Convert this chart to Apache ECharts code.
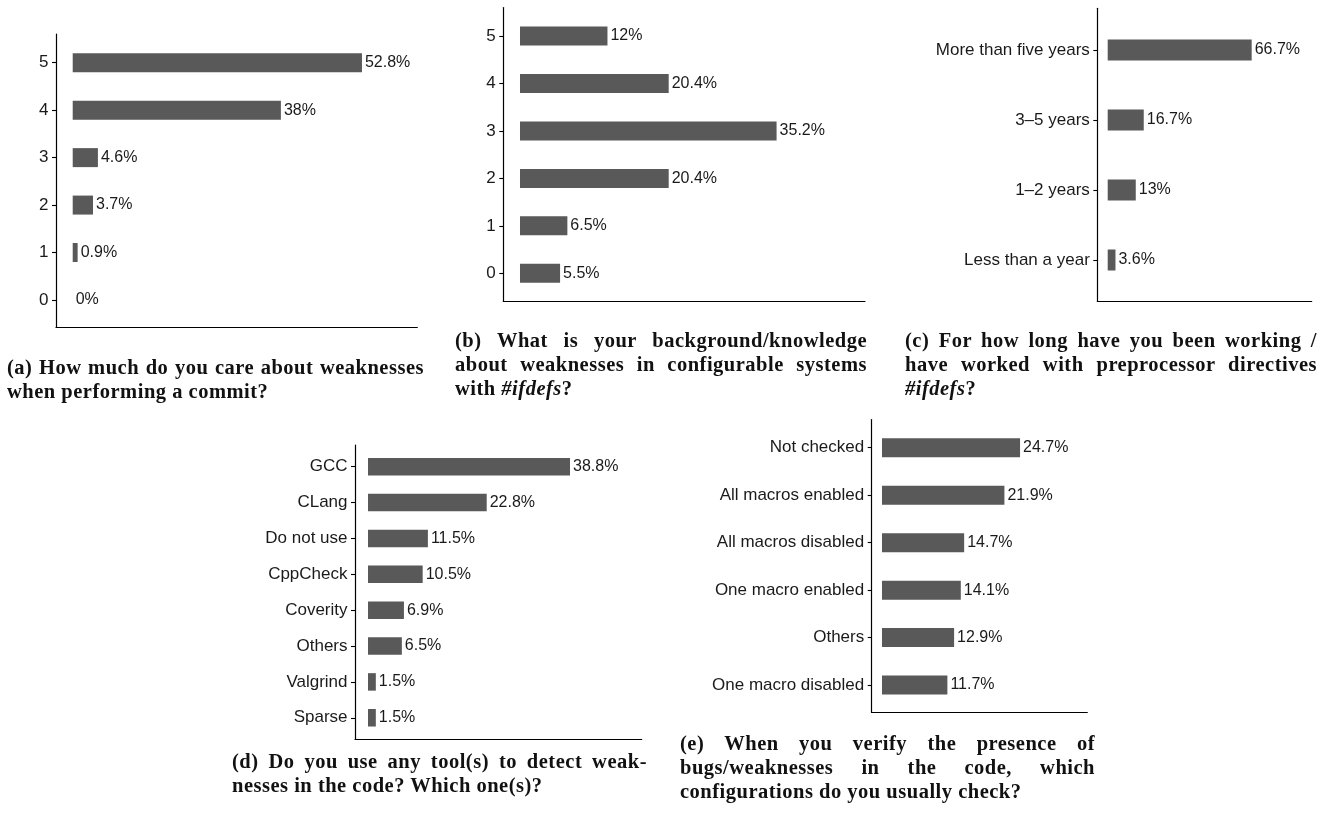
<!DOCTYPE html>
<html>
<head>
<meta charset="utf-8">
<script src="https://cdn.jsdelivr.net/npm/echarts@6/dist/echarts.min.js"></script>
<style>
html,body{margin:0;padding:0;background:#fff}
#chart{position:absolute;left:0;top:0;width:1332px;height:818px}
.cap{position:absolute;font-family:'Liberation Serif','Times New Roman',serif;font-weight:bold;
     font-size:20.5px;line-height:24.3px;letter-spacing:0.5px;color:#111}
.cap span{display:block;text-align:left}
.cap span.j{text-align:justify;text-align-last:justify}
</style>
</head>
<body>
<div id="chart"></div>

<div class="cap" style="left:7px;top:355px;width:417px">
 <span class="j">(a) How much do you care about weaknesses</span>
 <span>when performing a commit?</span>
</div>
<div class="cap" style="left:455px;top:327.5px;width:412px">
 <span class="j">(b) What is your background/knowledge</span>
 <span class="j">about weaknesses in configurable systems</span>
 <span>with <i>#ifdefs</i>?</span>
</div>
<div class="cap" style="left:905px;top:327.5px;width:412px">
 <span class="j">(c) For how long have you been working /</span>
 <span class="j">have worked with preprocessor directives</span>
 <span><i>#ifdefs</i>?</span>
</div>
<div class="cap" style="left:232px;top:748.5px;width:415px">
 <span class="j">(d) Do you use any tool(s) to detect weak-</span>
 <span>nesses in the code? Which one(s)?</span>
</div>
<div class="cap" style="left:680px;top:730.8px;width:415px">
 <span class="j">(e) When you verify the presence of</span>
 <span class="j">bugs/weaknesses in the code, which</span>
 <span>configurations do you usually check?</span>
</div>

<script>
// --- данные (в процентах), категории снизу вверх ---
var careCats = ['0', '1', '2', '3', '4', '5'];
var careVals = [0, 0.9, 3.7, 4.6, 38, 52.8];

var knowCats = ['0', '1', '2', '3', '4', '5'];
var knowVals = [5.5, 6.5, 20.4, 35.2, 20.4, 12];

var yearCats = ['Less than a year', '1\u20132 years', '3\u20135 years', 'More than five years'];
var yearVals = [3.6, 13, 16.7, 66.7];

var toolCats = ['Sparse', 'Valgrind', 'Others', 'Coverity', 'CppCheck', 'Do not use', 'CLang', 'GCC'];
var toolVals = [1.5, 1.5, 6.5, 6.9, 10.5, 11.5, 22.8, 38.8];

var confCats = ['One macro disabled', 'Others', 'One macro enabled', 'All macros disabled', 'All macros enabled', 'Not checked'];
var confVals = [11.7, 12.9, 14.1, 14.7, 21.9, 24.7];

// --- раскладка панелей: рамка осей, полоса категорий, шкала ---
var panels = [
 {cats: careCats, vals: careVals, x0: 56,    x1: 417.3,  y0: 34,    y1: 327.5, top: 39,    h: 284.7, min: -3.05, max: 62.9,  bar: 19},
 {cats: knowCats, vals: knowVals, x0: 503.3, x1: 865,    y0: 7.5,   y1: 301.5, top: 12.3,  h: 284.7, min: -2.29, max: 47.33, bar: 19},
 {cats: yearCats, vals: yearVals, x0: 1097.3,x1: 1311.7, y0: 8.3,   y1: 301,   top: 15,    h: 280,   min: -4.82, max: 94.5,  bar: 21},
 {cats: toolCats, vals: toolVals, x0: 355,   x1: 641.7,  y0: 445,   y1: 739,   top: 448.8, h: 286.9, min: -2.5,  max: 52.57, bar: 17.5},
 {cats: confCats, vals: confVals, x0: 871.7, x1: 1087.3, y0: 419.5, y1: 712.5, top: 424,   h: 284.8, min: -1.84, max: 36.73, bar: 19}
];

var INK = '#1a1a1a', BAR = '#595959', FONT = 'Liberation Sans';
var grid = [], xAxis = [], yAxis = [], series = [];
var lineStyle = {color: '#000', width: 1.2};

panels.forEach(function (p) {
 // сетка с рамкой осей (как в ggplot: расширение 0.6 категории)
 var gf = grid.length;
 grid.push({left: p.x0, top: p.y0, width: p.x1 - p.x0, height: p.y1 - p.y0});
 xAxis.push({type: 'value', gridIndex: gf, min: 0, max: 1,
  axisLine: {show: true, onZero: false, lineStyle: lineStyle},
  axisTick: {show: false}, axisLabel: {show: false}, splitLine: {show: false}});
 yAxis.push({type: 'value', gridIndex: gf, min: 0, max: 1,
  axisLine: {show: true, onZero: false, lineStyle: lineStyle},
  axisTick: {show: false}, axisLabel: {show: false}, splitLine: {show: false}});

 // сетка со столбцами
 var gb = grid.length;
 grid.push({left: p.x0, top: p.top, width: p.x1 - p.x0, height: p.h});
 xAxis.push({type: 'value', gridIndex: gb, min: p.min, max: p.max, show: false});
 yAxis.push({type: 'category', gridIndex: gb, data: p.cats,
  axisLine: {show: false, onZero: false},
  axisTick: {show: true, alignWithLabel: true, length: 4, lineStyle: {color: '#000', width: 1.1}},
  axisLabel: {margin: 7.5, fontSize: 17, color: INK, fontFamily: FONT}});
 series.push({type: 'bar', xAxisIndex: gb, yAxisIndex: gb, data: p.vals,
  barWidth: p.bar, itemStyle: {color: BAR}, silent: true,
  label: {show: true, position: 'right', distance: 3, fontSize: 16, color: INK, fontFamily: FONT,
   formatter: function (d) { return d.value + '%'; }}});
});

var chart = echarts.init(document.getElementById('chart'), null, {renderer: 'canvas'});
chart.setOption({
 animation: false,
 backgroundColor: '#fff',
 textStyle: {fontFamily: FONT},
 grid: grid, xAxis: xAxis, yAxis: yAxis, series: series
});
</script>
</body>
</html>
